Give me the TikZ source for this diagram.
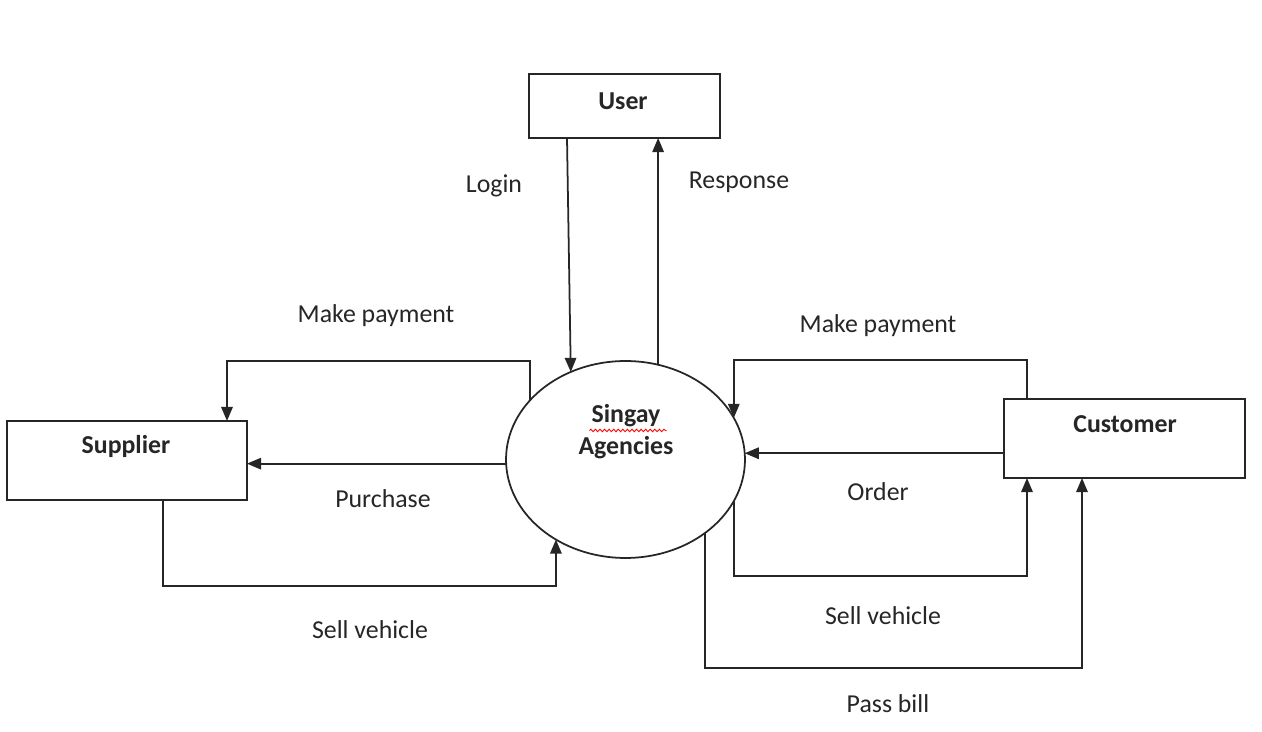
\documentclass[tikz,border=0pt]{standalone}
\usepackage{fontspec}
\setmainfont{Carlito}
\usetikzlibrary{arrows.meta,decorations.pathmorphing,shapes.geometric}

\tikzset{
  box/.style={draw=black!85, line width=1pt, inner sep=0pt, outer sep=0pt},
  proc/.style={draw=black!85, line width=1pt, ellipse, inner sep=0pt, outer sep=0pt,
    minimum width=4.78cm, minimum height=3.94cm},
  flow/.style={draw=black!85, line width=1pt, -{Triangle[length=8pt,width=6.5pt]}},
  lab/.style={text=black!85, font=\fontsize{14.7}{17}\selectfont},
  blab/.style={lab, font=\fontsize{14.7}{17}\selectfont\bfseries}
}

\begin{document}
\begin{tikzpicture}[x=0.02cm, y=-0.02cm]
  \useasboundingbox (0,0) rectangle (1262,732);

  % entities
  \node[box, minimum width=3.82cm, minimum height=1.28cm] (user) at (624.5,106) {};
  \node[blab] (usert) at (623,101) {User};
  \node[box, minimum width=4.8cm, minimum height=1.58cm] (sup) at (127,460.5) {};
  \node[blab] (supt) at (126,446) {Supplier};
  \node[box, minimum width=4.82cm, minimum height=1.58cm] (cust) at (1124.5,438.5) {};
  \node[blab] (custt) at (1125,424) {Customer};

  % process
  \node[proc] (sys) at (625.5,459.5) {};
  \node[blab] (syst1) at (626,416) {Singay};
  \node[blab] (syst2) at (626,448) {Agencies};
  \draw[red, line width=0.5pt, decorate,
    decoration={snake, amplitude=0.7pt, segment length=2.6pt}]
    (syst1.south west) ++(4,-3) coordinate (sq) -- (sq -| syst1.south east);

  % user
  \draw[flow] (user.south -| 567,0) -- (sys.122);
  \draw[flow] (sys.71) -- (sys.71 |- user.south);
  \node[lab] (login) at (494,186) {Login};
  \node[lab] (resp) at (739,182) {Response};

  % supplier
  \coordinate (mpl) at (227,361);
  \draw[flow] (sys.148) |- (mpl) -- (mpl |- sup.north);
  \draw[flow] (sys.182) -- (sys.182 -| sup.east);
  \coordinate (svl) at (163,586);
  \draw[flow] (sup.south -| svl) -- (svl) -| (sys.229);
  \node[lab] (mpayl) at (376,316) {Make payment};
  \node[lab] (purch) at (383,499) {Purchase};
  \node[lab] (sell1) at (370,630) {Sell vehicle};

  % customer
  \coordinate (mpr) at (1027,360);
  \draw[flow] (cust.north -| mpr) -- (mpr) -| (sys.21);
  \draw[flow] (sys.3 -| cust.west) -- (sys.3);
  \coordinate (svr) at (1027,576);
  \draw[flow] (sys.339) |- (svr) -- (svr |- cust.south);
  \coordinate (pb) at (1082,668);
  \draw[flow] (sys.317) |- (pb) -- (pb |- cust.south);
  \node[lab] (mpayr) at (878,326) {Make payment};
  \node[lab] (order) at (878,492) {Order};
  \node[lab] (sell2) at (883,616) {Sell vehicle};
  \node[lab] (bill) at (888,704) {Pass bill};
\end{tikzpicture}
\end{document}
